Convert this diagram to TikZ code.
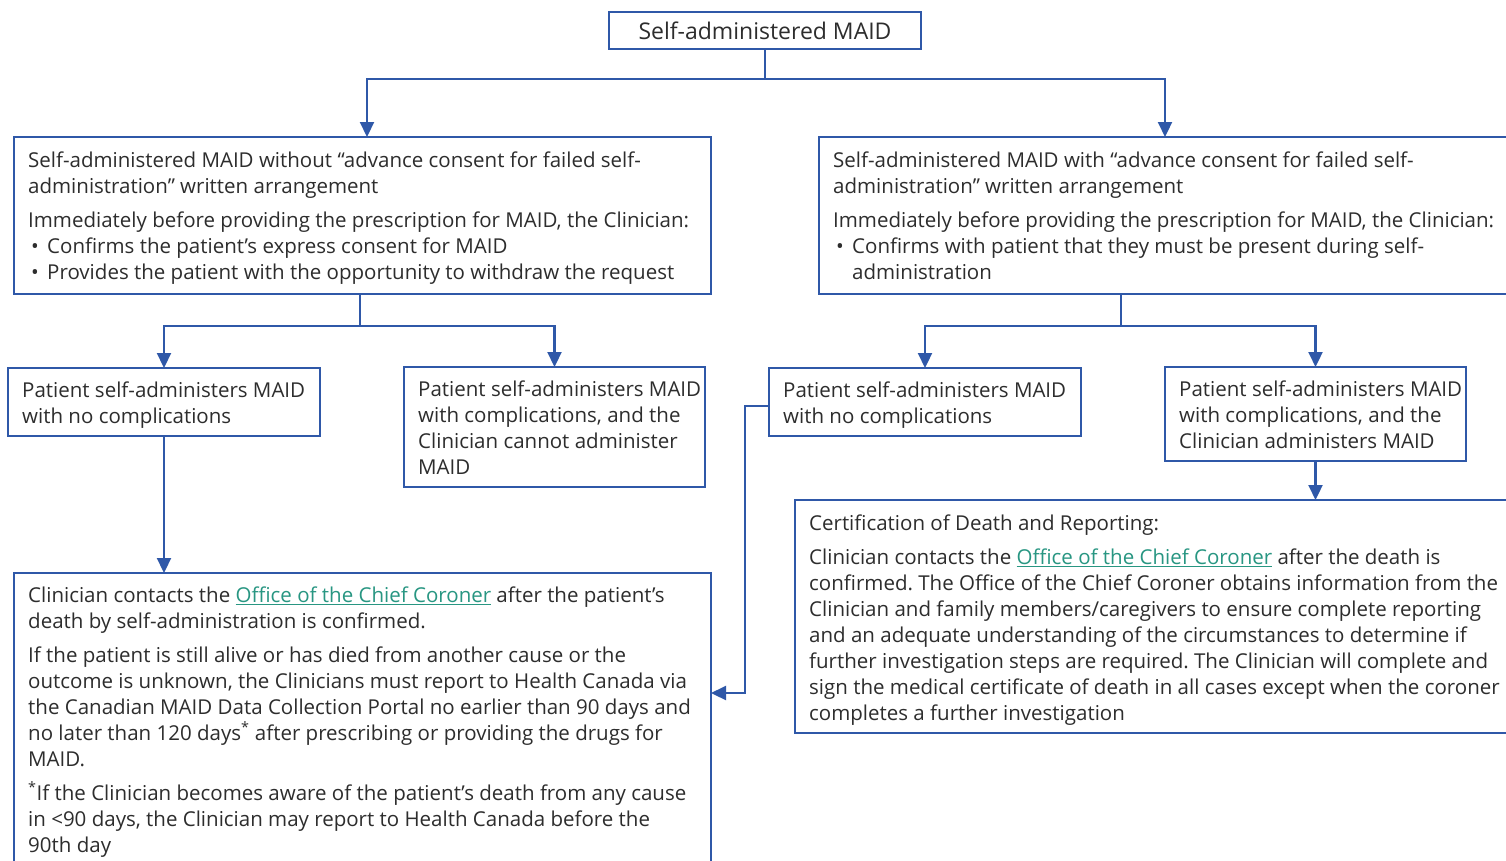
\documentclass[tikz,border=0pt]{standalone}
\usepackage{fontspec}
\setmainfont{Open Sans}
\usetikzlibrary{arrows.meta,calc}
\definecolor{mblue}{RGB}{47,88,168}
\definecolor{mtext}{RGB}{45,45,45}
\definecolor{mlink}{RGB}{40,150,130}
\newcommand{\lnk}[1]{\textcolor{mlink}{\underline{#1}}}
\newcommand{\bul}{\makebox[19pt][l]{\hspace{3pt}•}}
\frenchspacing
\tikzset{
  box/.style={draw=mblue, line width=2.2pt, anchor=north west, inner sep=0pt, outer sep=0pt},
  txt/.style={anchor=north west, inner sep=0pt, text=mtext, font=\fontsize{20.5}{26}\selectfont, align=left},
  conn/.style={draw=mblue, line width=2.2pt},
  arr/.style={conn, -{Triangle[length=15pt,width=14pt]}}
}
\begin{document}
\begin{tikzpicture}[x=1pt,y=-1pt]
\useasboundingbox (0,0) rectangle (1506,860);
\clip (0,0) rectangle (1506,860);
\fill[white] (0,0) rectangle (1506,860);
% title
\node[box, minimum width=312, minimum height=37, text=mtext, font=\fontsize{23}{28}\selectfont] (top) at (609,12) {Self-administered MAID};
% level 1
\node[box, minimum width=697, minimum height=157] (l1) at (14,137) {};
\node[txt] (l1t) at (28,149) {\strut Self-administered MAID without “advance consent for failed self-\\
administration” written arrangement\\[8pt]
Immediately before providing the prescription for MAID, the Clinician:\\
\bul Confirms the patient’s express consent for MAID\\
\bul Provides the patient with the opportunity to withdraw the request};
\node[box, minimum width=692, minimum height=157] (r1) at (819,137) {};
\node[txt] (r1t) at (833,149) {\strut Self-administered MAID with “advance consent for failed self-\\
administration” written arrangement\\[8pt]
Immediately before providing the prescription for MAID, the Clinician:\\
\bul Confirms with patient that they must be present during self-\\
\hspace*{19pt}administration};
% level 2
\node[box, minimum width=312, minimum height=68] (l2a) at (8,368) {};
\node[txt] (l2at) at (22,379) {\strut Patient self-administers MAID\\ with no complications};
\node[box, minimum width=301, minimum height=120] (l2b) at (404,367) {};
\node[txt] (l2bt) at (418,378) {\strut Patient self-administers MAID\\ with complications, and the\\ Clinician cannot administer\\ MAID};
\node[box, minimum width=312, minimum height=68] (r2a) at (769,368) {};
\node[txt] (r2at) at (783,379) {\strut Patient self-administers MAID\\ with no complications};
\node[box, minimum width=301, minimum height=94] (r2b) at (1165,367) {};
\node[txt] (r2bt) at (1179,378) {\strut Patient self-administers MAID\\ with complications, and the\\ Clinician administers MAID};
% level 3
\node[box, minimum width=697, minimum height=300] (l3) at (14,573) {};
\node[txt] (l3t) at (28,584) {\strut Clinician contacts the \lnk{Office of the Chief Coroner} after the patient’s\\
death by self-administration is confirmed.\\[8pt]
If the patient is still alive or has died from another cause or the\\
outcome is unknown, the Clinicians must report to Health Canada via\\
the Canadian MAID Data Collection Portal no earlier than 90 days and\\
no later than 120 days\textsuperscript{*} after prescribing or providing the drugs for\\
MAID.\\[8pt]
\textsuperscript{*}If the Clinician becomes aware of the patient’s death from any cause\\
in <90 days, the Clinician may report to Health Canada before the\\
90th day};
\node[box, minimum width=725, minimum height=233] (r3) at (795,500) {};
\node[txt] (r3t) at (809,512) {\strut Certification of Death and Reporting:\\[8pt]
Clinician contacts the \lnk{Office of the Chief Coroner} after the death is\\
confirmed. The Office of the Chief Coroner obtains information from the\\
Clinician and family members/caregivers to ensure complete reporting\\
and an adequate understanding of the circumstances to determine if\\
further investigation steps are required. The Clinician will complete and\\
sign the medical certificate of death in all cases except when the coroner\\
completes a further investigation};
% connectors
\coordinate (l1top) at ($(l1.north west)+(353,0)$);
\coordinate (l1b) at ($(l1.south west)+(346,0)$);
\coordinate (r1b) at ($(r1.south west)+(302,0)$);
\draw[arr] (top.south) -- ++(0,30) -| (l1top);
\draw[arr] (top.south) -- ++(0,30) -| (r1.north);
\draw[arr] (l1b) -- ++(0,32) -| (l2a.north);
\draw[arr] (l1b) -- ++(0,32) -| (l2b.north);
\draw[arr] (r1b) -- ++(0,32) -| (r2a.north);
\draw[arr] (r1b) -- ++(0,32) -| (r2b.north);
\draw[arr] (l2a.south) -- (l3.north -| l2a.south);
\draw[arr] ($(r2a.west)+(0,4)$) -- ++(-24,0) |- ($(l3.north east)+(0,120)$);
\draw[arr] (r2b.south) -- (r3.north -| r2b.south);
\end{tikzpicture}
\end{document}
